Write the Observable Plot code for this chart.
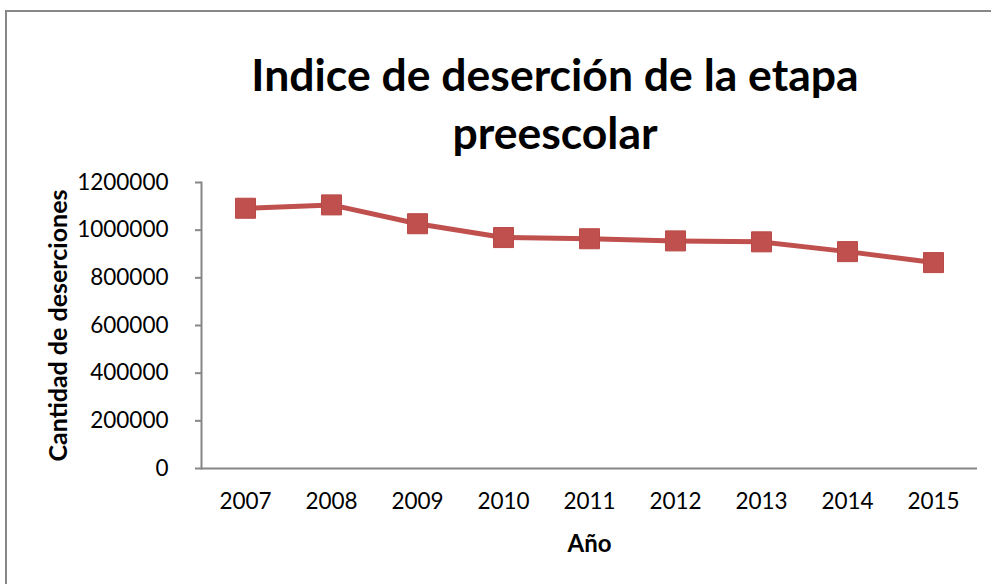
<!DOCTYPE html>
<html>
<head>
<meta charset="utf-8">
<script src="https://cdn.jsdelivr.net/npm/d3@7"></script>
<script src="https://cdn.jsdelivr.net/npm/@observablehq/plot@0.6"></script>
<style>
  html, body { margin: 0; padding: 0; background: #fff; overflow: hidden; }
  #wrap { position: relative; width: 991px; height: 584px; overflow: hidden; font-family: Lato, "Open Sans", sans-serif; }
  #border { position: absolute; left: 5px; top: 10px; width: 1100px; height: 700px; border: 2px solid #878787; box-sizing: border-box; }
  .title { position: absolute; left: 0; width: 1110px; text-align: center; font-weight: 700; font-size: 44.5px; color: #000; line-height: 1; white-space: nowrap; }
  #chart { position: absolute; left: 0; top: 0; }
</style>
</head>
<body>
<div id="wrap">
  <div id="border"></div>
  <div id="chart"></div>
  <div class="title" style="top:52px">Indice de deserción de la etapa</div>
  <div class="title" style="top:110px">preescolar</div>
</div>
<script>
const years = ["2007", "2008", "2009", "2010", "2011", "2012", "2013", "2014", "2015"];
const desertions = [1092000, 1106000, 1027000, 969000, 964000, 955000, 951000, 910000, 864000];
const yTicks = [0, 200000, 400000, 600000, 800000, 1000000, 1200000];
const xLabel = "Año";
const yLabel = "Cantidad de deserciones";

const data = years.map((y, i) => ({year: y, value: desertions[i]}));

const chart = Plot.plot({
  width: 991,
  height: 584,
  marginLeft: 201,
  marginRight: 14,
  marginTop: 182,
  marginBottom: 116,
  style: {background: "transparent", fontFamily: "Lato, sans-serif", color: "#000"},
  x: {type: "point", domain: years, padding: 0.5},
  y: {domain: [0, 1200000]},
  marks: [
    Plot.frame({anchor: "left", stroke: "#868686", strokeWidth: 2, strokeOpacity: 1}),
    Plot.ruleY([0], {stroke: "#868686", strokeWidth: 2}),
    Plot.axisY({ticks: yTicks, tickFormat: d3.format("d"), tickSize: 6, tickPadding: 27, stroke: "#868686", strokeWidth: 2, strokeOpacity: 1, fontSize: 22.5, fill: "#000", label: null}),
    Plot.axisX({tickSize: 0, tickPadding: 25, fontSize: 22.5, fill: "#000", label: null}),
    Plot.line(data, {x: "year", y: "value", stroke: "#C0504D", strokeWidth: 5}),
    Plot.dot(data, {x: "year", y: "value", symbol: "square", r: 11.3, fill: "#C0504D", stroke: "#B94A47", strokeWidth: 1}),
    Plot.text([xLabel], {frameAnchor: "bottom", dy: 76, fontSize: 24, fontWeight: 700, fill: "#000", lineAnchor: "middle", textAnchor: "middle"}),
    Plot.text([yLabel], {frameAnchor: "left", dx: -143, rotate: -90, fontSize: 25, fontWeight: 700, fill: "#000", lineAnchor: "middle", textAnchor: "middle"})
  ]
});
document.getElementById("chart").appendChild(chart);
</script>
</body>
</html>
